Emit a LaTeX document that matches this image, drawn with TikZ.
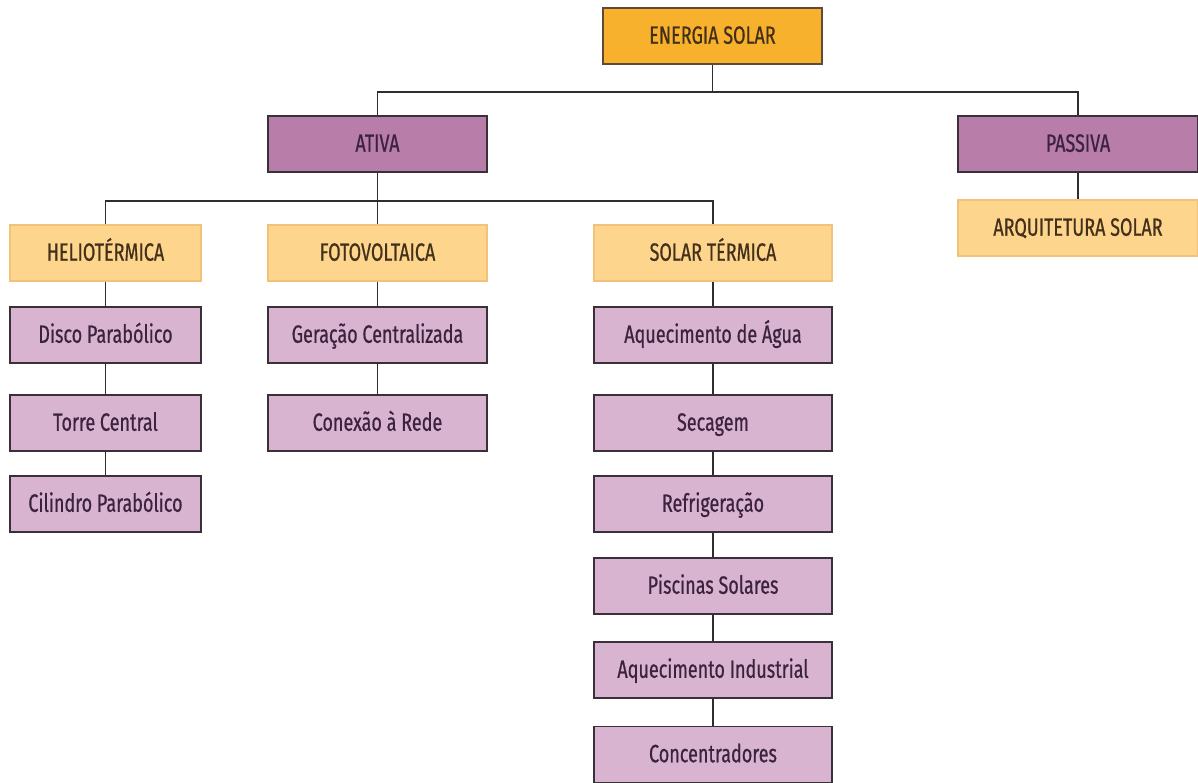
\documentclass[tikz,border=0pt]{standalone}
\usepackage{fontspec}
\setmainfont[FakeStretch=0.72,FakeBold=0.6]{Fira Sans}
\definecolor{orangeA}{HTML}{F8B12C}
\definecolor{orangeB}{HTML}{FDD58C}
\definecolor{orangeBd}{HTML}{F3C27A}
\definecolor{purpleA}{HTML}{B97DAA}
\definecolor{purpleB}{HTML}{D8B4D0}
\definecolor{txtP}{HTML}{3B2340}
\definecolor{txtO}{HTML}{43301A}
\definecolor{bordD}{HTML}{3A3038}
\definecolor{lineC}{HTML}{2E2E2E}
\tikzset{
  basebox/.style={rectangle, inner sep=0pt, font=\fontsize{25}{28}\selectfont, text height=17pt, text depth=1.5pt, line width=1.1pt},
  rootbox/.style={basebox, fill=orangeA, draw=bordD!80!orangeA, text=txtO, minimum width=219pt, minimum height=56pt},
  purbox/.style={basebox, fill=purpleA, draw=bordD, text=txtP, minimum height=56pt},
  orbox/.style={basebox, fill=orangeB, draw=orangeBd, text=txtO, minimum height=56pt},
  leafbox/.style={basebox, fill=purpleB, draw=bordD, text=txtP, minimum height=56pt},
  wa/.style={minimum width=191pt},
  wb/.style={minimum width=219pt},
  wc/.style={minimum width=238pt},
  wd/.style={minimum width=240pt},
  conn/.style={draw=lineC, line width=1.3pt}
}
\begin{document}
\begin{tikzpicture}[x=1pt,y=-1pt]
\useasboundingbox[fill=white] (0,0) rectangle (1198,783);
% level 0
\node[rootbox] (es) at (712.5,36) {ENERGIA SOLAR};
% level 1
\node[purbox,wb] (ativa) at (377.5,144) {ATIVA};
\node[purbox,wd] (passiva) at (1078,144) {PASSIVA};
\node[orbox,wd] (arq) at (1078,228) {ARQUITETURA SOLAR};
% level 2
\node[orbox,wa] (helio) at (105.5,253) {HELIOTÉRMICA};
\node[orbox,wb] (foto) at (377.5,253) {FOTOVOLTAICA};
\node[orbox,wc] (solt) at (713,253) {SOLAR TÉRMICA};
% heliotermica column
\node[leafbox,wa] (disco) at (105.5,335) {Disco Parabólico};
\node[leafbox,wa] (torre) at (105.5,423) {Torre Central};
\node[leafbox,wa] (cil) at (105.5,504) {Cilindro Parabólico};
% fotovoltaica column
\node[leafbox,wb] (ger) at (377.5,335) {Geração Centralizada};
\node[leafbox,wb] (con) at (377.5,423) {Conexão à Rede};
% solar termica column
\node[leafbox,wc] (agua) at (713,335) {Aquecimento de Água};
\node[leafbox,wc] (sec) at (713,423) {Secagem};
\node[leafbox,wc] (ref) at (713,504) {Refrigeração};
\node[leafbox,wc] (pis) at (713,586) {Piscinas Solares};
\node[leafbox,wc] (ind) at (713,670) {Aquecimento Industrial};
\node[leafbox,wc] (conc) at (713,754.5) {Concentradores};
% junctions
\coordinate (j1) at (712.5,92);
\coordinate (j2) at (377.5,201);
% connectors
\draw[conn] (es.south) -- (j1);
\draw[conn] (ativa.north) |- (j1) -| (passiva.north);
\draw[conn] (passiva.south) -- (arq.north);
\draw[conn] (ativa.south) -- (j2);
\draw[conn] (helio.north) |- (j2) -| (solt.north);
\draw[conn] (foto.north) -- (j2);
\draw[conn] (helio.south) -- (disco.north);
\draw[conn] (disco.south) -- (torre.north);
\draw[conn] (torre.south) -- (cil.north);
\draw[conn] (foto.south) -- (ger.north);
\draw[conn] (ger.south) -- (con.north);
\draw[conn] (solt.south) -- (agua.north);
\draw[conn] (agua.south) -- (sec.north);
\draw[conn] (sec.south) -- (ref.north);
\draw[conn] (ref.south) -- (pis.north);
\draw[conn] (pis.south) -- (ind.north);
\draw[conn] (ind.south) -- (conc.north);
\end{tikzpicture}
\end{document}
